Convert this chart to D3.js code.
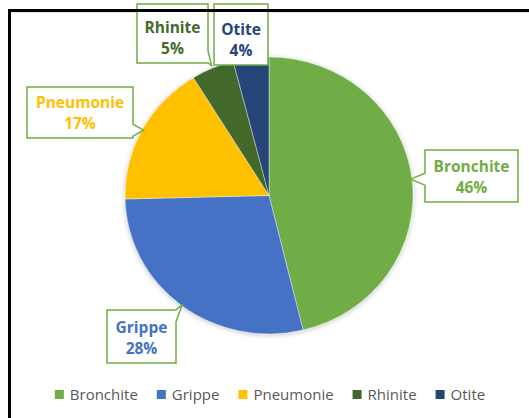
<!DOCTYPE html>
<html>
<head>
<meta charset="utf-8">
<script src="https://cdn.jsdelivr.net/npm/d3@7"></script>
<style>
  html, body { margin: 0; padding: 0; background: #fff; }
  svg { display: block; }
</style>
</head>
<body>
<svg id="chart" width="529" height="418"></svg>
<script>
// ---- data ----
const categories = ["Bronchite", "Grippe", "Pneumonie", "Rhinite", "Otite"];
const values = [46.2, 28.4, 16.6, 4.8, 4.0];
const colors = ["#70AD47", "#4472C4", "#FFC000", "#43682B", "#264478"];
const labelColors = ["#70AD47", "#4472C4", "#FFC000", "#43682B", "#264478"];

// ---- layout ----
const W = 529, H = 418;
const cx = 269, cy = 195.5, rx = 144, ry = 138.5;
const svg = d3.select("#chart");

// frame (left black line)
svg.append("rect").attr("x", 8).attr("y", 9).attr("width", 3).attr("height", H).attr("fill", "#000");
svg.append("rect").attr("x", 11).attr("y", 12).attr("width", W).attr("height", 1).attr("fill", "#e6e6e6");

// soft shadow
const defs = svg.append("defs");
const f = defs.append("filter").attr("id", "sh").attr("x", "-10%").attr("y", "-10%").attr("width", "120%").attr("height", "120%");
f.append("feGaussianBlur").attr("in", "SourceAlpha").attr("stdDeviation", 2.5).attr("result", "b");
f.append("feOffset").attr("in", "b").attr("dx", 0).attr("dy", 1).attr("result", "o");
f.append("feComponentTransfer").attr("in", "o").attr("result", "o2")
  .append("feFuncA").attr("type", "linear").attr("slope", 0.25);
const fm = f.append("feMerge");
fm.append("feMergeNode").attr("in", "o2");
fm.append("feMergeNode").attr("in", "SourceGraphic");

const data = categories.map((c, i) => ({ name: c, value: values[i], color: colors[i], lc: labelColors[i] }));
const pie = d3.pie().value(d => d.value).sort(null);
const arcs = pie(data);
const arc = d3.arc().innerRadius(0).outerRadius(rx);

const g = svg.append("g")
  .attr("transform", `translate(${cx},${cy}) scale(1,${ry / rx})`)
  .attr("filter", "url(#sh)");
g.selectAll("path").data(arcs).join("path")
  .attr("d", arc)
  .attr("fill", d => d.data.color)
  .attr("stroke", "#fff").attr("stroke-width", 0.4);

// ---- callout labels ----
const boxes = {
  "Bronchite": [425, 150, 518, 202],
  "Grippe":    [107, 310, 176, 363],
  "Pneumonie": [27, 87, 133, 138],
  "Rhinite":   [137, 4, 208, 63],
  "Otite":     [214, 4, 268, 65]
};
const tipR = { "Bronchite": 0.99, "Grippe": 0.99, "Pneumonie": 0.99, "Rhinite": 1.02, "Otite": 0.99 };

function tipPoint(a) {
  const m = (a.startAngle + a.endAngle) / 2;
  const k = tipR[a.data.name];
  return [cx + rx * k * Math.sin(m), cy - ry * k * Math.cos(m)];
}

function calloutPath(b, tip) {
  const [x0, y0, x1, y1] = b;
  const [tx, ty] = tip;
  const inside = tx >= x0 && tx <= x1 && ty >= y0 && ty <= y1;
  const hw = 6;
  const cl = (v, a, c) => Math.max(a + hw, Math.min(c - hw, v));
  let pts;
  const dl = x0 - tx, dr = tx - x1, dt = y0 - ty, db = ty - y1;
  const mx = Math.max(dl, dr, dt, db);
  if (inside || mx < 2) {
    pts = [[x0, y0], [x1, y0], [x1, y1], [x0, y1]];
  } else if (mx === db) {
    const p = cl(tx, x0, x1);
    pts = [[x0, y0], [x1, y0], [x1, y1], [p + hw, y1], [tx, ty], [p - hw, y1], [x0, y1]];
  } else if (mx === dt) {
    const p = cl(tx, x0, x1);
    pts = [[x0, y0], [p - hw, y0], [tx, ty], [p + hw, y0], [x1, y0], [x1, y1], [x0, y1]];
  } else if (mx === dr) {
    const p = cl(ty, y0, y1);
    pts = [[x0, y0], [x1, y0], [x1, p - hw], [tx, ty], [x1, p + hw], [x1, y1], [x0, y1]];
  } else {
    const p = cl(ty, y0, y1);
    pts = [[x0, y0], [x1, y0], [x1, y1], [x0, y1], [x0, p + hw], [tx, ty], [x0, p - hw]];
  }
  return "M" + pts.map(p => p.join(",")).join("L") + "Z";
}

const lab = svg.append("g");
arcs.forEach(a => {
  const b = boxes[a.data.name];
  const tip = tipPoint(a);
  lab.append("path")
    .attr("d", calloutPath(b, tip))
    .attr("fill", "#fff")
    .attr("stroke", "#70AD47")
    .attr("stroke-width", 1.5)
    .attr("stroke-linejoin", "miter");
  const mxp = (b[0] + b[2]) / 2;
  const by = b[3];
  const t = lab.append("text")
    .attr("text-anchor", "middle")
    .attr("font-family", "'Open Sans', sans-serif")
    .attr("font-weight", "bold")
    .attr("font-size", 15.5)
    .attr("fill", a.data.lc);
  t.append("tspan").attr("x", mxp).attr("y", by - 30).text(a.data.name);
  t.append("tspan").attr("x", mxp).attr("y", by - 9).text(Math.round(a.data.value) + "%");
});

// top frame line drawn over the label boxes
svg.append("rect").attr("x", 8).attr("y", 9).attr("width", W).attr("height", 3).attr("fill", "#000");

// ---- legend ----
const leg = svg.append("g");
const legSize = 15;
const ctx = document.createElement("canvas").getContext("2d");
ctx.font = legSize + "px 'Open Sans', sans-serif";
const sq = 9, gapIn = 6, gapOut = 19;
const widths = categories.map(c => sq + gapIn + ctx.measureText(c).width);
const total = d3.sum(widths) + gapOut * (categories.length - 1);
let x = 270 - total / 2;
categories.forEach((c, i) => {
  leg.append("rect").attr("x", x).attr("y", 390).attr("width", sq).attr("height", sq).attr("fill", colors[i]);
  leg.append("text").attr("x", x + sq + gapIn).attr("y", 399.5)
    .attr("font-family", "'Open Sans', sans-serif").attr("font-size", legSize)
    .attr("fill", "#595959").text(c);
  x += widths[i] + gapOut;
});
</script>
</body>
</html>
